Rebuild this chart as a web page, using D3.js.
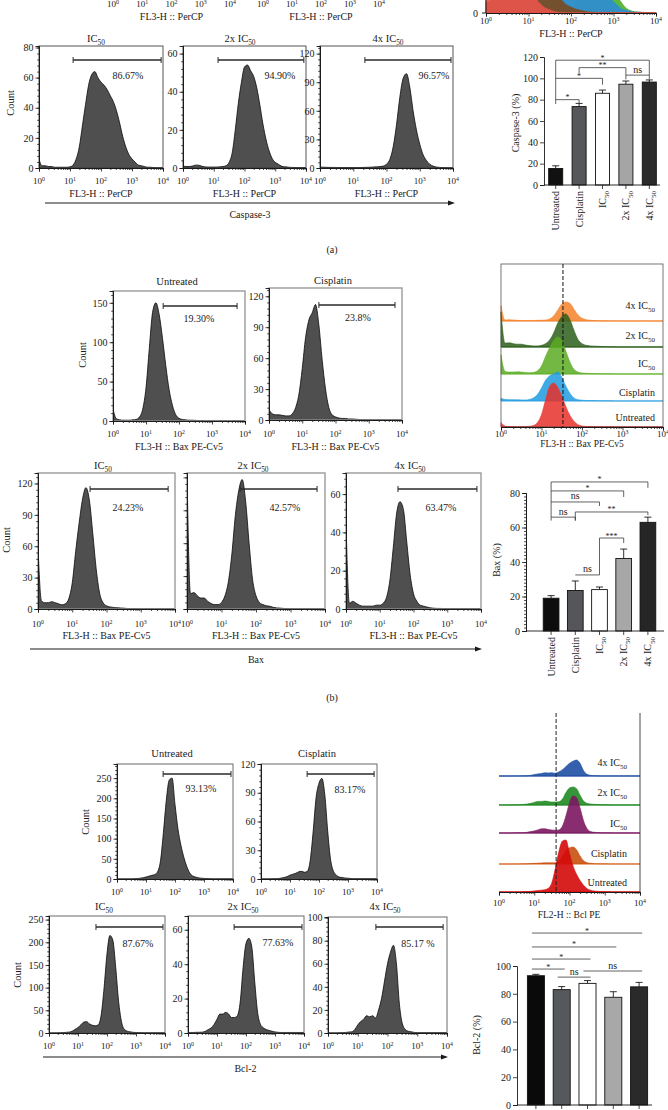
<!DOCTYPE html>
<html><head><meta charset="utf-8">
<script src="https://cdn.jsdelivr.net/npm/d3@7"></script>
<style>body{margin:0;background:#fff} svg{display:block}</style>
</head><body>
<script>
// ---------------- DATA ----------------
const logBins = [0,0.1,0.2,0.3,0.4,0.5,0.6,0.7,0.8,0.9,1,1.1,1.2,1.3,1.4,1.5,1.6,1.7,1.8,1.9,2,2.1,2.2,2.3,2.4,2.5,2.6,2.7,2.8,2.9,3,3.1,3.2,3.3,3.4,3.5,3.6,3.7,3.8,3.9,4];
const groups = ["Untreated","Cisplatin","IC_{50}","2x IC_{50}","4x IC_{50}"];
const decadeTicks = [1,10,100,1000,10000];

// Caspase-3 histograms (counts per log bin)
const caspUntreated = [20,30,45,60,70,72,68,58,45,32,22,14,8,5,3,2,1,0.5,0.3,0.2,0.2,0.2,0.2,0.2,0.2,0.2,0.2,0.2,0.2,0.2,0.2,0.2,0.2,0.2,0.2,0.2,0.2,0.2,0.2,0.2,0.2];
const caspCisplatin = [5,6,8,10,14,20,30,42,52,58,60,56,48,38,28,20,14,9,6,4,3,2,1.5,1,0.6,0.4,0.3,0.2,0.2,0.2,0.2,0.2,0.2,0.2,0.2,0.2,0.2,0.2,0.2,0.2,0.2];
const caspIC50 = [6,1.5,1.5,1,1,0.5,0.5,0.5,0.5,0.5,0.8,2,6,14,28,42,55,62,64,60,57,55,52,48,44,38,30,21,14,9,6,4,2,1.5,1,0.5,0.5,0.3,0.2,0.2,0.2];
const casp2x = [1,0.8,0.8,1,1.5,1.5,1,0.6,0.5,0.5,0.5,0.5,0.6,0.8,1.2,3,8,20,34,45,53,54,51,48,42,33,23,15,9,5,3,2,1,0.6,0.5,0.3,0.3,0.2,0.2,0.2,0.2];
const casp4x = [1,0.8,0.7,0.6,0.6,0.5,0.5,0.5,0.5,0.5,0.5,0.5,0.5,0.6,0.7,0.8,1,1.2,1.5,2,4,9,22,45,74,94,99,85,60,40,25,14,8,4,2,1,0.6,0.4,0.3,0.3,0.3];
const caspPct = ["86.67%","94.90%","96.57%"];
const caspGate = [[1.1,3.94],[1.14,3.93],[1.35,3.94]];

// Bax histograms
const baxUntreated = [15,3,1.5,1,1,1,1.5,2,5,15,42,92,138,150,135,105,70,40,20,8,3.5,2,1.5,1,1,0.8,0.5,0.5,0.3,0.3,0.2,0.2,0.2,0.2,0.2,0.2,0.2,0.2,0.2,0.2,0.2];
const baxCisplatin = [10,6,5,5,4.5,4,4,6,12,25,50,80,97,104,112,92,58,30,12,5,3,2,1.5,1.5,1,1,0.8,0.5,0.4,0.3,0.2,0.2,0.2,0.2,0.2,0.2,0.2,0.2,0.2,0.2,0.2];
const baxIC50 = [60,8,6,6,7,6,5,4,5,10,25,55,82,105,116,104,72,38,15,6,3,2,1.5,1.2,1,0.8,0.5,0.4,0.3,0.3,0.2,0.2,0.2,0.2,0.2,0.2,0.2,0.2,0.2,0.2,0.2];
const bax2x = [125,14,15,12,10,10,7,5,4,4,6,12,25,50,85,108,118,98,60,27,12,6,4,3,2.5,1.5,1,0.8,0.5,0.4,0.3,0.3,0.3,0.3,0.3,0.3,0.3,0.3,0.3,0.3,0.3];
const bax4x = [45,3,4,3,2,1.5,1.5,1.5,1.5,2,2,3,6,15,32,50,56,52,35,18,8,4,2,1.5,1,0.6,0.4,0.3,0.3,0.2,0.2,0.2,0.2,0.2,0.2,0.2,0.2,0.2,0.2,0.2,0.2];
const baxPct = ["19.30%","23.8%","24.23%","42.57%","63.47%"];
const baxGate = [[1.52,3.76],[1.5,3.79],[1.52,3.8],[1.54,3.77],[1.54,3.88]];
const baxThreshold = 1.53;

// Bcl-2 histograms
const bclUntreated = [0,0,0,0,0,0,0.5,1,2,3,5,7,9,11,18,45,115,195,245,250,185,125,85,55,32,16,8,5,3,2,1.5,1,0.5,0.3,0.3,0.3,0.3,0.3,0.3,0.3,0.3];
const bclCisplatin = [0,0,0,0,0.2,0.3,0.5,1,1.5,2.5,4,5,6,7.5,8,7,8,20,50,85,100,105,88,50,20,8,4,2,1.5,1,0.8,0.5,0.3,0.3,0.3,0.3,0.3,0.3,0.3,0.3,0.3];
const bclIC50 = [0,0,0,0.2,0.5,1,1.5,2,4,8,12,18,24,25,20,17,16,18,40,100,175,215,205,145,70,25,8,4,2.5,1.5,1,1,0.6,0.4,0.4,0.4,0.4,0.4,0.4,0.4,0.4];
const bcl2x = [0.3,0.3,0.3,0.4,0.4,0.5,1,2,3,5,8,11,11,12,11,9,9,10,18,38,52,55,50,30,12,5,3,2,1.5,1,0.6,0.4,0.3,0.3,0.3,0.3,0.3,0.3,0.3,0.3,0.3];
const bcl4x = [0,0,0,0,0.2,0.3,0.5,0.8,1,3,7,10,12,15,14,15,13,20,30,45,60,70,76,60,25,8,3,1.5,1,0.5,0.3,0.3,0.3,0.3,0.3,0.3,0.3,0.3,0.3,0.3,0.3];
const bclPct = ["93.13%","83.17%","87.67%","77.63%","85.17 %"];
const bclGate = [[1.59,3.93],[1.59,3.9],[1.62,3.93],[1.59,3.93],[1.61,3.87]];
const bclThreshold = 1.62;

// Bar charts (% positive, mean and SEM)
const caspMean = [15.5,73.5,86,94.5,96.5];
const caspSEM = [2.5,3,3,3,2];
const baxMean = [19,23.5,24,42,63];
const baxSEM = [1.5,5.5,1.5,5.5,3];
const bclMean = [93,83,87.5,77.5,85];
const bclSEM = [1,2.2,2,4,3.2];
const caspYTicks = [0,20,40,60,80,100,120];
const baxYTicks = [0,20,40,60,80];
const bclYTicks = [0,20,40,60,80,100];

// significance comparisons: [groupA, groupB, label, level, dropA, dropB] (in % units)
const caspSig = [[0,4,"*",117,76,103],[1,3,"**",110,105,103],[3,4,"ns",103,99,99],[0,2,"*",100,100,94],[0,1,"*",80,80,76]];
const baxSig = [[0,4,"*",86.4,64,83],[0,3,"*",81.2,81.2,77.7],[0,2,"ns",74.8,74.8,72.5],[1,4,"**",69,64.3,67.2],[0,1,"ns",66,66,63.8],[2,3,"***",53.9,32.5,51],[1,2,"ns",32.5,32.5,32.5]];
const bclSig = [[0,4,"*",123.7],[0,3,"*",113.7],[0,2,"*",105],[0,1,"*",97.8],[1,2,"ns",92],[2,4,"ns",96.4]];

// ---------------- DRAWING ----------------
const FONT = "'Liberation Serif','DejaVu Serif',serif";
const INK = '#1a1a1a';
const svg = d3.select('body').append('svg').attr('width',668).attr('height',1110)
  .style('font-family',FONT);
const defs = svg.append('defs');
let clipId = 0;

function rich(t, str, size){
  const parts = str.split(/(_\{[^}]*\}|\^\{[^}]*\})/).filter(s=>s.length);
  let pending = 0;
  parts.forEach(p=>{
    if (p.startsWith('_{')) {
      t.append('tspan').attr('dy', size*0.32 + pending).attr('font-size', size*0.7).text(p.slice(2,-1));
      pending = -size*0.32;
    } else if (p.startsWith('^{')) {
      t.append('tspan').attr('dy', -size*0.38 + pending).attr('font-size', size*0.65).text(p.slice(2,-1));
      pending = size*0.38;
    } else {
      const s = t.append('tspan').text(p);
      if (pending) { s.attr('dy', pending); pending = 0; }
    }
  });
}
function label(g, str, x, y, o={}){
  const size = o.size || 10;
  const t = g.append('text').attr('x',x).attr('y',y)
    .attr('text-anchor', o.anchor || 'middle').attr('font-size', size)
    .attr('fill', o.fill || INK);
  if (o.rotate) t.attr('transform', `rotate(${o.rotate},${x},${y})`);
  rich(t, str, size);
  return t;
}
function styleAxis(g, size){
  g.attr('font-family', FONT).attr('font-size', size || 9.5);
  g.select('.domain').attr('stroke', INK).attr('stroke-width', 0.9);
  g.selectAll('.tick line').attr('stroke', INK).attr('stroke-width', 0.8);
  g.selectAll('.tick text').attr('fill', INK);
  return g;
}
function minorLogTicks(){
  const m = [];
  decadeTicks.slice(0,-1).forEach(d=>{ for(let k=2;k<10;k++) m.push(d*k); });
  return m;
}
function logAxis(g, x, y, labelY, size, noLine){
  const gm = g.append('g').attr('transform',`translate(0,${y})`)
    .call(d3.axisBottom(x).tickValues(minorLogTicks()).tickSize(2).tickFormat(''));
  styleAxis(gm);
  const gM = g.append('g').attr('transform',`translate(0,${y})`)
    .call(d3.axisBottom(x).tickValues(decadeTicks).tickSize(3.5).tickFormat(''));
  styleAxis(gM);
  if (noLine) { gm.select('.domain').remove(); gM.select('.domain').remove(); }
  if (labelY != null) decadeTicks.forEach(d=>label(g, `10^{${Math.round(Math.log10(d))}}`, x(d), labelY, {size: size||9}));
}
function arrow(x1, x2, y, text, ty){
  svg.append('line').attr('x1',x1).attr('x2',x2-5).attr('y1',y).attr('y2',y).attr('stroke',INK).attr('stroke-width',1);
  svg.append('path').attr('d',`M${x2},${y} L${x2-7},${y-2.5} L${x2-7},${y+2.5} Z`).attr('fill',INK);
  label(svg, text, (x1+x2)/2 + 0, ty, {size:10});
}

// histogram panel
function histPanel(p){
  const g = svg.append('g');
  const x = d3.scaleLog().domain([1,1e4]).range([p.x0,p.x1]);
  const y = d3.scaleLinear().domain([0,p.yMax]).range([p.yBase,p.yTop]);
  const id = 'clip'+(clipId++);
  defs.append('clipPath').attr('id',id).append('rect')
    .attr('x',p.x0).attr('y',p.yTop).attr('width',p.x1-p.x0).attr('height',p.yBase-p.yTop);
  const area = d3.area().x((d,i)=>x(Math.pow(10,logBins[i]))).y0(p.yBase).y1(d=>y(d)).curve(d3.curveMonotoneX);
  g.append('path').datum(p.counts).attr('d',area).attr('clip-path',`url(#${id})`)
    .attr('fill','#4f4f4f').attr('stroke','#0a0a0a').attr('stroke-width',0.8);
  g.append('rect').attr('x',p.x0).attr('y',p.yTop).attr('width',p.x1-p.x0).attr('height',p.yBase-p.yTop)
    .attr('fill','none').attr('stroke', p.frame || '#7a7a7a').attr('stroke-width', p.frameW || 1);
  // y axis with minor ticks
  const step = (p.yTicks[1]-p.yTicks[0])/5;
  const minors = d3.range(0, p.yMax, step);
  const gmy = g.append('g').attr('transform',`translate(${p.x0},0)`)
    .call(d3.axisLeft(y).tickValues(minors).tickSize(1.8).tickFormat(''));
  styleAxis(gmy);
  const gy = g.append('g').attr('transform',`translate(${p.x0},0)`)
    .call(d3.axisLeft(y).tickValues(p.yTicks).tickSize(3.5).tickPadding(2)
      .tickFormat(p.noYLabels ? '' : d3.format('d')));
  styleAxis(gy, 10);
  logAxis(g, x, p.yBase, p.tickY, 9);
  if (p.xTitle) label(g, p.xTitle, (p.x0+p.x1)/2, p.xTitleY, {size:10});
  // gate
  const gx0 = x(Math.pow(10,p.gate[0])), gx1 = x(Math.pow(10,p.gate[1]));
  g.append('line').attr('x1',gx0).attr('x2',gx1).attr('y1',p.gateY).attr('y2',p.gateY).attr('stroke','#2a2a2a').attr('stroke-width',1.6);
  [gx0,gx1].forEach(v=>g.append('line').attr('x1',v).attr('x2',v).attr('y1',p.gateY-3).attr('y2',p.gateY+3).attr('stroke','#2a2a2a').attr('stroke-width',1));
  label(g, p.pct, p.pctX, p.pctY+3.5, {size:10});
  label(g, p.title, p.titleX, p.titleY, {size:10.5});
}

// overlay of stacked histograms
function overlay(p){
  const g = svg.append('g');
  const x = d3.scaleLog().domain([1,1e4]).range([p.x0,p.x1]);
  [4,3,2,1,0].forEach(i=>{
    const base = p.bases[i], h = p.heights[i], arr = p.series[i], mx = d3.max(arr);
    if (p.lineColors) g.append('line').attr('x1',p.x0).attr('x2',p.x1).attr('y1',base).attr('y2',base)
      .attr('stroke',p.lineColors[i]).attr('stroke-width',1.2);
    const area = d3.area().x((d,j)=>x(Math.pow(10,logBins[j]))).y0(base).y1(d=>base - d/mx*h).curve(d3.curveMonotoneX);
    g.append('path').datum(arr).attr('d',area).attr('fill',p.colors[i]).attr('fill-opacity',p.opacity||0.85)
      .attr('stroke',p.colors[i]).attr('stroke-width',0.6);
    if (p.labelX) label(g, groups[i], p.labelX, p.labelY[i]+3.5, {size:10, anchor:'end'});
  });
  return {g, x};
}

// bar chart
function barChart(p){
  const g = svg.append('g');
  const x = d3.scaleBand().domain(groups).range(p.xr).paddingInner(p.pad).paddingOuter(p.pad/2);
  const y = d3.scaleLinear().domain(p.ydom).range([p.yBase,p.yTop]);
  const cx = i => x(groups[i]) + x.bandwidth()/2;
  // error bars
  p.mean.forEach((m,i)=>{
    const ye = y(m + p.sem[i]);
    g.append('line').attr('x1',cx(i)).attr('x2',cx(i)).attr('y1',y(m)).attr('y2',ye).attr('stroke',INK).attr('stroke-width',0.9);
    g.append('line').attr('x1',cx(i)-3.5).attr('x2',cx(i)+3.5).attr('y1',ye).attr('y2',ye).attr('stroke',INK).attr('stroke-width',0.9);
  });
  g.selectAll('rect.bar').data(p.mean).join('rect').attr('class','bar')
    .attr('x',(d,i)=>x(groups[i])).attr('y',d=>y(d)).attr('width',x.bandwidth())
    .attr('height',d=>p.yBase-y(d)).attr('fill',(d,i)=>p.colors[i]).attr('stroke','#111').attr('stroke-width',0.9);
  if (p.minor) {
    const gm = g.append('g').attr('transform',`translate(${p.axisX},0)`)
      .call(d3.axisLeft(y).tickValues(d3.range(0,p.ydom[1],p.minor)).tickSize(2).tickFormat(''));
    styleAxis(gm);
  }
  const ya = g.append('g').attr('transform',`translate(${p.axisX},0)`)
    .call(d3.axisLeft(y).tickValues(p.ticks).tickSize(4).tickPadding(2).tickFormat(d3.format('d')));
  styleAxis(ya, 10);
  g.append('line').attr('x1',p.axisX).attr('x2',p.axisEnd).attr('y1',p.yBase).attr('y2',p.yBase).attr('stroke',INK).attr('stroke-width',0.9);
  groups.forEach((c,i)=>{
    g.append('line').attr('x1',cx(i)).attr('x2',cx(i)).attr('y1',p.yBase).attr('y2',p.yBase+4).attr('stroke',INK).attr('stroke-width',0.8);
    if (p.catLabels) label(g, c, cx(i)+3.5, p.yBase+6, {size:10, anchor:'end', rotate:-90});
  });
  label(g, p.yTitle, p.yTitleX, p.yTitleY, {size:10, rotate:-90});
  // significance
  p.sig.forEach(s=>{
    const [a,b,txt,lvl] = s;
    const yl = y(lvl);
    let xa = cx(a), xb = cx(b);
    if (s.length > 4) {
      const pts = [[xa,y(s[4])],[xa,yl],[xb,yl],[xb,y(s[5])]];
      g.append('path').attr('d', d3.line()(pts)).attr('fill','none').attr('stroke','#3a3a3a').attr('stroke-width',0.8);
    } else {
      xa -= 4; xb += 3;
      g.append('line').attr('x1',xa).attr('x2',xb).attr('y1',yl).attr('y2',yl).attr('stroke','#3a3a3a').attr('stroke-width',0.8);
    }
    const star = txt.includes('*');
    label(g, txt, (xa+xb)/2, star ? yl+0.5 : yl-2.5, {size: star ? 8 : 10});
  });
}

// ======== Panel (a) Caspase-3 ========
// partial top row (only axis labels visible)
[[113,230],[263,379]].forEach(([a,b])=>{
  const x = d3.scaleLog().domain([1,1e4]).range([a,b]);
  const g = svg.append('g');
  logAxis(g, x, -6, 7, 9);
  label(g, 'FL3-H :: PerCP', (a+b)/2, 20, {size:10});
});
// partial overlay top right
{
  const o = overlay({x0:486, x1:656, bases:[13,13,13,13,13], heights:[120,120,120,120,120],
    series:[caspUntreated,caspCisplatin,caspIC50,casp2x,casp4x],
    colors:['#e8534a','#7a4a1e','#2a8fd0','#8c9a7c','#4caf2a'], opacity:0.9});
  svg.append('line').attr('x1',486).attr('x2',486).attr('y1',0).attr('y2',13).attr('stroke',INK);
  svg.append('line').attr('x1',482).attr('x2',486).attr('y1',13).attr('y2',13).attr('stroke',INK);
  label(svg,'0',478,16.5,{size:10,anchor:'end'});
  logAxis(svg, o.x, 13, 24, 9);
  label(svg,'FL3-H :: PerCP',571,37,{size:10});
}
const caspSeries = [caspIC50, casp2x, casp4x];
const caspLayout = [
  {x0:39,x1:163,yMax:81,yTicks:[0,20,40,60,80],pctX:128,titleX:96},
  {x0:183,x1:306,yMax:64,yTicks:[0,20,40,60],pctX:280,titleX:240},
  {x0:320,x1:453,yMax:128,yTicks:[0,30,60,90,120],pctX:434,titleX:388}
];
caspLayout.forEach((L,i)=>histPanel(Object.assign({
  counts:caspSeries[i], title:groups[i+2], pct:caspPct[i], gate:caspGate[i],
  yTop:46, yBase:168, gateY:60, pctY:75, titleY:42, tickY:184,
  xTitle:'FL3-H :: PerCP', xTitleY:197, frame:'#555'
}, L)));
label(svg,'Count',14,103,{size:10.5,rotate:-90});
arrow(45, 455, 203, 'Caspase-3', 218);
barChart({xr:[544,661], pad:0.4, ydom:[0,120], yBase:185, yTop:57, axisX:544, axisEnd:660,
  mean:caspMean, sem:caspSEM, ticks:caspYTicks, colors:['#111','#56575b','#fff','#a5a5a5','#2b2b2b'],
  catLabels:true, yTitle:'Caspase-3 (%)', yTitleX:519, yTitleY:123, sig:caspSig});
label(svg,'(a)',332,253,{size:10});

// ======== Panel (b) Bax ========
const baxSeries = [baxUntreated, baxCisplatin, baxIC50, bax2x, bax4x];
const baxLayout = [
  {x0:113,x1:245,yTop:291,yBase:421,yMax:165,yTicks:[0,50,100,150],gateY:306,pctX:199,pctY:318,titleX:177,titleY:285,tickY:437,xTitleY:450},
  {x0:269,x1:402,yTop:288,yBase:420,yMax:128,yTicks:[0,30,60,90,120],gateY:305,pctX:358,pctY:317,titleX:333,titleY:284,tickY:437,xTitleY:450},
  {x0:38,x1:175,yTop:473,yBase:609,yMax:130,yTicks:[0,30,60,90,120],gateY:489,pctX:128,pctY:507,titleX:103,titleY:469,tickY:627,xTitleY:639},
  {x0:187,x1:325,yTop:473,yBase:609,yMax:124,yTicks:[0,30,60,90,120],gateY:489,pctX:285,pctY:507,titleX:253,titleY:469,tickY:627,xTitleY:639,noYLabels:true},
  {x0:346,x1:481,yTop:473,yBase:609,yMax:71,yTicks:[0,20,40,60],gateY:489,pctX:441,pctY:507,titleX:410,titleY:469,tickY:627,xTitleY:639}
];
baxLayout.forEach((L,i)=>histPanel(Object.assign({
  counts:baxSeries[i], title:groups[i], pct:baxPct[i], gate:baxGate[i],
  xTitle:'FL3-H :: Bax PE-Cv5', frame:'#9a9a9a', frameW:1.4
}, L)));
label(svg,'Count',86,355,{size:10.5,rotate:-90});
label(svg,'Count',10,540,{size:10.5,rotate:-90});
arrow(30, 482, 649, 'Bax', 663);
{
  const o = overlay({x0:501, x1:663, bases:[427,401,374,347,321], heights:[44,29,37,35,19],
    series:baxSeries, colors:['#e8302a','#1e9be0','#5aac22','#2c5e1a','#f5812a'],
    lineColors:['#e8302a','#9fd3f2','#9ccd72','#2c5e1a','#f5a060'],
    labelX:655, labelY:[417,392,363,335,305], opacity:0.85});
  svg.append('rect').attr('x',501).attr('y',264).attr('width',162).attr('height',163).attr('fill','none').attr('stroke','#555').attr('stroke-width',0.8);
  const tx = o.x(Math.pow(10,baxThreshold));
  svg.append('line').attr('x1',tx).attr('x2',tx).attr('y1',264).attr('y2',427).attr('stroke','#111').attr('stroke-width',1).attr('stroke-dasharray','4,2');
  logAxis(svg, o.x, 427, 437, 9);
  label(svg,'FL3-H :: Bax PE-Cv5',582,447,{size:9.5});
}
barChart({xr:[539,660], pad:0.35, ydom:[0,80], yBase:631, yTop:493, axisX:526, axisEnd:664, minor:2,
  mean:baxMean, sem:baxSEM, ticks:baxYTicks, colors:['#0d0d0d','#55565a','#fff','#a7a7a7','#262626'],
  catLabels:true, yTitle:'Bax (%)', yTitleX:500, yTitleY:560, sig:baxSig});
label(svg,'(b)',332,701,{size:10});

// ======== Panel (c) Bcl-2 ========
const bclSeries = [bclUntreated, bclCisplatin, bclIC50, bcl2x, bcl4x];
const bclLayout = [
  {x0:117,x1:233,yTop:764,yBase:879,yMax:285,yTicks:[0,50,100,150,200,250],gateY:774,pctX:201,pctY:788,titleX:172,titleY:757,tickY:895},
  {x0:261,x1:377,yTop:764,yBase:879,yMax:120,yTicks:[0,30,60,90,120],gateY:774,pctX:350,pctY:789,titleX:317,titleY:757,tickY:895},
  {x0:49,x1:165,yTop:916,yBase:1033,yMax:258,yTicks:[0,50,100,150,200,250],gateY:927,pctX:138,pctY:943,titleX:104,titleY:910,tickY:1049},
  {x0:188,x1:304,yTop:916,yBase:1033,yMax:68,yTicks:[0,20,40,60],gateY:927,pctX:278,pctY:942,titleX:243,titleY:910,tickY:1049},
  {x0:328,x1:447,yTop:917,yBase:1033,yMax:100.5,yTicks:[0,20,40,60,80,100],gateY:927,pctX:418,pctY:943,titleX:385,titleY:910,tickY:1049}
];
bclLayout.forEach((L,i)=>histPanel(Object.assign({
  counts:bclSeries[i], title:groups[i], pct:bclPct[i], gate:bclGate[i], frame:'#6a6a6a'
}, L)));
label(svg,'Count',89,822,{size:10.5,rotate:-90});
label(svg,'Count',21,975,{size:10.5,rotate:-90});
arrow(43, 448, 1057, 'Bcl-2', 1072);
{
  const o = overlay({x0:499, x1:640, bases:[892,864,833,805,776], heights:[52,17,37,18,16],
    series:bclSeries, colors:['#d40a0a','#c9500f','#7b1760','#1f8a22','#1e4fa3'],
    lineColors:['#d40a0a','#f5b080','#7b1760','#1f8a22','#1e4fa3'],
    labelX:627, labelY:[882,853,823,792,762], opacity:0.9});
  svg.append('line').attr('x1',640).attr('x2',640).attr('y1',713).attr('y2',892).attr('stroke','#333').attr('stroke-width',0.9);
  const tx = o.x(Math.pow(10,bclThreshold));
  svg.append('line').attr('x1',tx).attr('x2',tx).attr('y1',713).attr('y2',892).attr('stroke','#222').attr('stroke-width',1).attr('stroke-dasharray','4,2');
  logAxis(svg, o.x, 892, 906, 9);
  label(svg,'FL2-H :: Bcl PE',569,918,{size:9.5});
}
barChart({xr:[523,652], pad:0.34, ydom:[0,100], yBase:1105, yTop:966, axisX:517, axisEnd:652,
  mean:bclMean, sem:bclSEM, ticks:bclYTicks, colors:['#0a0a0a','#55585c','#fff','#a8a8a8','#2a2a2a'],
  catLabels:false, yTitle:'Bcl-2 (%)', yTitleX:480, yTitleY:1035, sig:bclSig});
</script>
</body></html>
